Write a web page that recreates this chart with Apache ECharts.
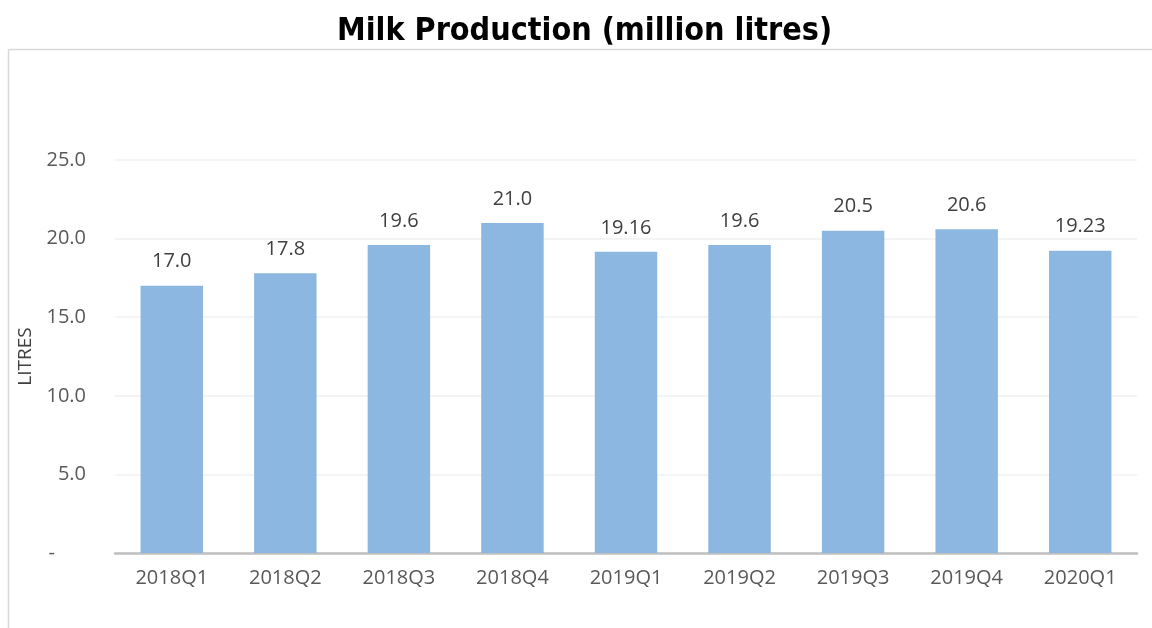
<!DOCTYPE html>
<html>
<head>
<meta charset="utf-8">
<script src="https://cdn.jsdelivr.net/npm/echarts@6/dist/echarts.min.js"></script>
<style>
  html, body { margin: 0; padding: 0; background: #ffffff; }
  #chart { width: 1152px; height: 628px; }
</style>
</head>
<body>
<div id="chart"></div>
<script>
// Quarterly milk production, million litres
const quarters = ['2018Q1', '2018Q2', '2018Q3', '2018Q4', '2019Q1', '2019Q2', '2019Q3', '2019Q4', '2020Q1'];
const production = [17.0, 17.8, 19.6, 21.0, 19.16, 19.6, 20.5, 20.6, 19.23];
const yTicks = [0, 5, 10, 15, 20, 25];

// Show at least one decimal, more when the value has them
function fmtValue(v) {
  const dec = (String(v).split('.')[1] || '').length;
  return v.toFixed(Math.max(1, dec));
}

const chart = echarts.init(document.getElementById('chart'));
const font = 'Open Sans';

chart.setOption({
  animation: false,
  textStyle: { fontFamily: font },
  title: {
    text: 'Milk Production (million litres)',
    left: 332,
    top: 11,
    textStyle: { fontFamily: '"DejaVu Sans Condensed", "DejaVu Sans"', fontSize: 32, fontWeight: 'bold', color: '#000000' }
  },
  graphic: [
    { type: 'line', shape: { x1: 8.5, y1: 49.5, x2: 1152, y2: 49.5 }, style: { stroke: '#D9D9D9', lineWidth: 1.5 } },
    { type: 'line', shape: { x1: 8.5, y1: 49.5, x2: 8.5, y2: 628 }, style: { stroke: '#D9D9D9', lineWidth: 1.5 } }
  ],
  grid: { left: 115, right: 15, top: 160, bottom: 75 },
  xAxis: {
    type: 'category',
    data: quarters,
    axisLine: { lineStyle: { color: '#BFBFBF', width: 2.5 } },
    axisTick: { show: false },
    axisLabel: { color: '#595959', fontSize: 20, margin: 15, fontFamily: font }
  },
  yAxis: {
    type: 'value',
    min: yTicks[0],
    max: yTicks[yTicks.length - 1],
    interval: 5,
    name: 'LITRES',
    nameLocation: 'middle',
    nameGap: 74,
    nameRotate: 90,
    nameTextStyle: { color: '#404040', fontSize: 19, fontFamily: font },
    axisLine: { show: false },
    axisTick: { show: false },
    splitLine: { lineStyle: { color: '#F0F0F0', width: 1.5 } },
    axisLabel: {
      color: '#595959',
      fontSize: 20,
      margin: 29,
      fontFamily: font,
      formatter: v => (v === 0 ? '-      ' : v.toFixed(1))
    }
  },
  series: [{
    type: 'bar',
    data: production,
    barWidth: '55%',
    itemStyle: { color: '#8CB7E0' },
    label: {
      show: true,
      position: 'top',
      distance: 14,
      color: '#404040',
      fontSize: 20,
      fontFamily: font,
      formatter: p => fmtValue(p.value)
    }
  }]
});
</script>
</body>
</html>
